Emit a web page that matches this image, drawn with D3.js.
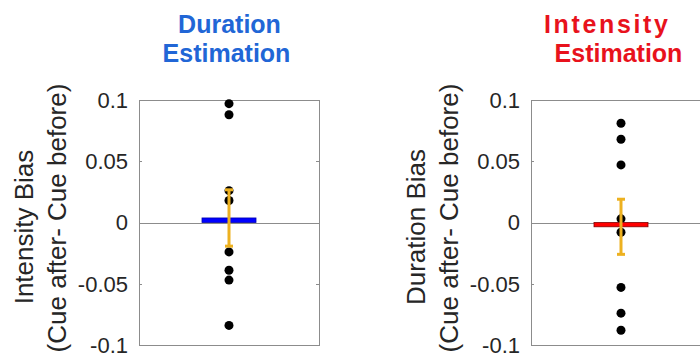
<!DOCTYPE html>
<meta charset="utf-8">
<style>
body { margin: 0; background: #fff; }
text { font-family: "Liberation Sans", Arial, Helvetica, sans-serif; }
.frame { fill: none; stroke: #8c8c8c; stroke-width: 1; }
.zero { stroke: #8c8c8c; stroke-width: 1; }
.tick-label { font-size: 22px; fill: #262626; }
.ylab { font-size: 26px; fill: #262626; }
.title { font-size: 25px; font-weight: bold; }
</style>
<svg width="700" height="361"></svg>
<script src="https://d3js.org/d3.v7.min.js"></script>
<script>
// values
var yTicks = [-0.1, -0.05, 0, 0.05, 0.1];
var yTickLabels = ['-0.1', '-0.05', '0', '0.05', '0.1'];

var durDots = [0.097, 0.088, 0.026, 0.018, -0.024, -0.039, -0.047, -0.084];
var durMean = 0.0037;
var durSem = 0.023;

var intDots = [0.081, 0.068, 0.047, 0.003, -0.008, -0.053, -0.074, -0.088];
var intMean = -0.0035;
var intSem = 0.0225;

var svg = d3.select('svg');

var y = d3.scaleLinear().domain([-0.1, 0.1]).range([345, 100]);

function panel(opt) {
  var x = d3.scaleLinear().domain([0.5, 1.5]).range([opt.left, opt.left + 180]);
  var g = svg.append('g');

  // zero line
  g.append('line').attr('class', 'zero')
    .attr('x1', x(0.5)).attr('x2', x(1.5))
    .attr('y1', Math.round(y(0)) + 0.5).attr('y2', Math.round(y(0)) + 0.5);

  // frame with inner ticks on both sides
  g.append('rect').attr('class', 'frame')
    .attr('x', x(0.5) + 0.5).attr('y', y(0.1) + 0.5)
    .attr('width', x(1.5) - x(0.5)).attr('height', y(-0.1) - y(0.1));
  yTicks.forEach(function (t) {
    var yy = Math.round(y(t)) + 0.5;
    g.append('line').attr('class', 'zero')
      .attr('x1', x(0.5)).attr('x2', x(0.5) + 3).attr('y1', yy).attr('y2', yy);
    g.append('line').attr('class', 'zero')
      .attr('x1', x(1.5) - 3).attr('x2', x(1.5)).attr('y1', yy).attr('y2', yy);
  });

  g.selectAll('.tick-label')
    .data(yTicks)
    .enter()
    .append('text')
    .attr('class', 'tick-label')
    .attr('x', x(0.5) - 11)
    .attr('y', function (d) { return y(d); })
    .attr('dy', '0.36em')
    .attr('text-anchor', 'end')
    .text(function (d, i) { return yTickLabels[i]; });

  // individual subjects
  g.selectAll('.dot')
    .data(opt.dots)
    .enter()
    .append('circle')
    .attr('class', 'dot')
    .attr('cx', x(1))
    .attr('cy', function (d) { return y(d); })
    .attr('r', 4.5)
    .attr('fill', '#000');

  // mean bar
  g.append('rect')
    .attr('x', x(0.85)).attr('width', x(1.15) - x(0.85))
    .attr('y', Math.min(y(opt.mean), y(0)))
    .attr('height', Math.max(Math.abs(y(opt.mean) - y(0)), 4))
    .attr('fill', opt.barColor)
    .attr('stroke', opt.barEdge)
    .attr('stroke-width', 0.8);

  // error bar
  var top = y(opt.mean + opt.sem), bot = y(opt.mean - opt.sem);
  g.append('line').attr('x1', x(1)).attr('x2', x(1)).attr('y1', top).attr('y2', bot)
    .attr('stroke', '#EDB120').attr('stroke-width', 3);
  [top, bot].forEach(function (v) {
    g.append('line').attr('x1', x(1) - 4).attr('x2', x(1) + 4).attr('y1', v).attr('y2', v)
      .attr('stroke', '#EDB120').attr('stroke-width', 3);
  });

  // y label, two lines
  g.append('text').attr('class', 'ylab')
    .attr('transform', 'translate(' + (opt.left - 106) + ',' + 227 + ') rotate(-90)')
    .attr('text-anchor', 'middle')
    .text(opt.ylab1);
  g.append('text').attr('class', 'ylab')
    .attr('transform', 'translate(' + (opt.left - 73) + ',' + 218 + ') rotate(-90)')
    .attr('text-anchor', 'middle')
    .text('(Cue after- Cue before)');

  // title
  var t1 = g.append('text').attr('class', 'title').attr('fill', opt.titleColor)
    .attr('x', opt.t1x).attr('y', 33).attr('text-anchor', 'middle').text(opt.title1);
  if (opt.t1len) t1.attr('textLength', opt.t1len);
  g.append('text').attr('class', 'title').attr('fill', opt.titleColor)
    .attr('x', opt.t2x).attr('y', 62).attr('text-anchor', 'middle').text(opt.title2);
}

panel({
  left: 139, dots: durDots, mean: durMean, sem: durSem,
  barColor: '#0000ff', barEdge: '#0000b0', titleColor: '#2166d6',
  ylab1: 'Intensity Bias', title1: 'Duration', title2: 'Estimation',
  t1x: 229.5, t2x: 226.5
});
panel({
  left: 531, dots: intDots, mean: intMean, sem: intSem,
  barColor: '#ff0000', barEdge: '#800000', titleColor: '#e8121c',
  ylab1: 'Duration Bias', title1: 'Intensity', title2: 'Estimation',
  t1x: 606, t2x: 618.5, t1len: 124
});
</script>
